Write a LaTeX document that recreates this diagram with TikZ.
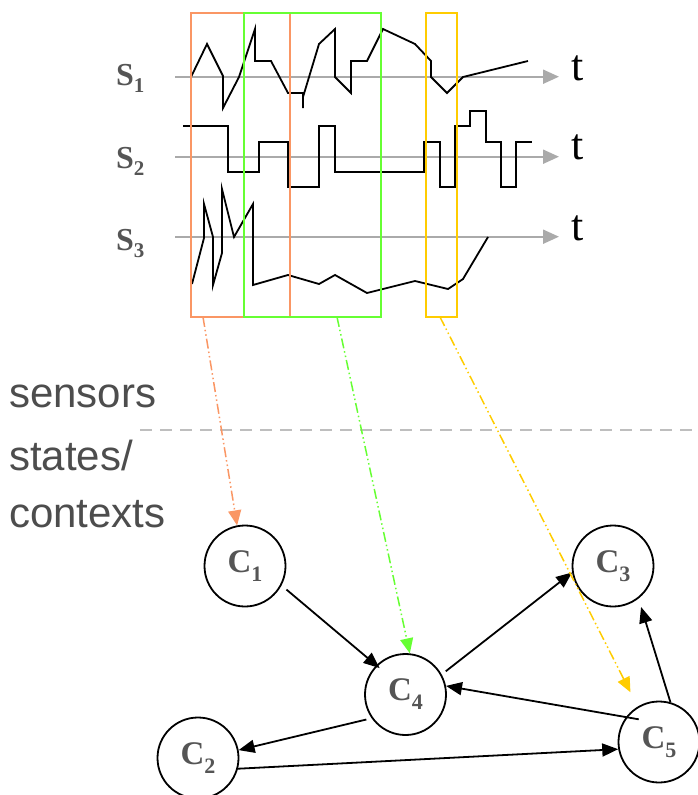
\documentclass[tikz,border=0pt]{standalone}
\usepackage{fontspec}
\setmainfont{Liberation Serif}
\newfontfamily\labelsans{Liberation Sans}
\usetikzlibrary{arrows.meta}
\definecolor{sigorange}{RGB}{250,150,100}
\definecolor{siggreen}{RGB}{102,255,51}
\definecolor{sigyellow}{RGB}{255,204,0}
\definecolor{axisgray}{RGB}{170,170,170}
\definecolor{txtgray}{RGB}{85,85,85}
\definecolor{sidegray}{RGB}{77,77,77}
\definecolor{sepgray}{RGB}{190,190,190}
\newcommand{\slab}[2]{{\bfseries #1\raisebox{-7pt}{\fontsize{21}{21}\selectfont #2}}}
\newcommand{\clab}[1]{{\bfseries C\raisebox{-9pt}{\fontsize{22}{22}\selectfont #1}}}
\begin{document}
\begin{tikzpicture}[x=1pt,y=-1pt,
  signal/.style={line width=1.8pt, black, line join=miter},
  axisline/.style={axisgray, line width=2pt, -{Triangle[length=16pt,width=14pt]}},
  winbox/.style={line width=2pt},
  state/.style={circle, draw, line width=1.8pt, minimum size=81pt, inner sep=0pt,
     font=\fontsize{33}{33}\selectfont, text=txtgray},
  trans/.style={line width=1.8pt, -{Triangle[length=16pt,width=13pt]}},
  maparrow/.style={line width=1.5pt,
     dash pattern=on 10pt off 3pt on 1.5pt off 3pt on 1.5pt off 3pt,
     -{Triangle[length=15pt,width=13pt]}},
  sideline/.style={anchor=base west, inner sep=0pt, text=sidegray,
     font=\labelsans\fontsize{42}{42}\selectfont},
  slabel/.style={anchor=base west, inner sep=0pt, text=txtgray,
     font=\fontsize{32}{32}\selectfont},
  tlabel/.style={anchor=base west, inner sep=0pt, font=\fontsize{44}{44}\selectfont}
]
\useasboundingbox (0,0) rectangle (697,795);

% axes
\coordinate (a1s) at (175,76.7); \coordinate (a1e) at (559,76.7);
\coordinate (a2s) at (175,156.7); \coordinate (a2e) at (559,156.7);
\coordinate (a3s) at (175,236.7); \coordinate (a3e) at (559,236.7);
\draw[axisline] (a1s) -- (a1e);
\draw[axisline] (a2s) -- (a2e);
\draw[axisline] (a3s) -- (a3e);

% labels
\node[slabel] (s1) at (116,85) {\slab{S}{1}};
\node[slabel] (s2) at (116,168) {\slab{S}{2}};
\node[slabel] (s3) at (116,250) {\slab{S}{3}};
\node[tlabel] (t1) at (571,80) {t};
\node[tlabel] (t2) at (571,159) {t};
\node[tlabel] (t3) at (571,240) {t};

% signal S1
\draw[signal] (191,77) -- (207,44) -- (223,76) -- (223,108) -- (239,77) -- (255,29)
  -- (255,61) -- (271,61) -- (288,93) -- (303,93) -- (303,108);
\draw[signal] (303,97) -- (319,44) -- (335,29) -- (335,77) -- (351,93) -- (351,61)
  -- (367,61) -- (383,29) -- (415,44) -- (431,61) -- (431,77) -- (447,93) -- (463,77) -- (528,61);
% signal S2
\draw[signal] (183,126) -- (228,126) -- (228,172) -- (259,172) -- (259,142) -- (288,142)
  -- (288,187) -- (319,187) -- (319,126) -- (335,126) -- (335,172) -- (424,172) -- (424,142)
  -- (440,142) -- (440,187) -- (455,187) -- (455,126) -- (470,126) -- (470,111) -- (486,111)
  -- (486,142) -- (501,142) -- (501,187) -- (516,187) -- (516,142) -- (532,142);
% signal S3
\draw[signal] (192,284) -- (204,238) -- (204,204) -- (213,237) -- (213,285) -- (222,253)
  -- (222,189) -- (234,237) -- (253,204) -- (253,285) -- (288,275) -- (319,284) -- (335,275)
  -- (367,293) -- (415,281) -- (448,289) -- (463,279) -- (488,237);

% windows
\draw[winbox, sigorange] (191,13) rectangle (290,317);
\draw[winbox, siggreen] (244,13) rectangle (381,317);
\draw[winbox, sigyellow] (426,13) rectangle (457,317);

% side labels and separator
\node[sideline] (sens) at (9,407) {sensors};
\node[sideline] (stat) at (9,470) {states/};
\node[sideline] (ctx) at (9,527) {contexts};
\draw[sepgray, line width=2pt, dash pattern=on 12pt off 8pt] (140,430) -- (697,430);

% states
\node[state] (c1) at (245,566) {\clab{1}};
\node[state] (c3) at (613,566) {\clab{3}};
\node[state] (c4) at (405.5,694.5) {\clab{4}};
\node[state] (c2) at (198,758) {\clab{2}};
\node[state] (c5) at (659,742) {\clab{5}};

% transitions
\draw[trans, shorten <=6.4pt, shorten >=-4.4pt] (c1.-28) -- (c4.135);
\draw[trans, shorten <=5.1pt] (c4.29) -- (c3.189);
\draw[trans, shorten <=-13pt] (c5.143) -- (c4.12);
\draw[trans, shorten <=5.4pt] (c4.215) -- (c2.11);
\draw[trans] (c2.-15) -- (c5.190);
\draw[trans, shorten >=8.7pt] (c5.74) -- (c3.-52);

% mapping arrows
\coordinate (ow) at (203,317);
\coordinate (gw) at (337,317);
\coordinate (yw) at (440,317);
\draw[maparrow, sigorange] (ow) -- (c1.101);
\draw[maparrow, siggreen] (gw) -- (c4.84);
\draw[maparrow, sigyellow, shorten >=16pt] (yw) -- (c5.121);
\end{tikzpicture}
\end{document}
